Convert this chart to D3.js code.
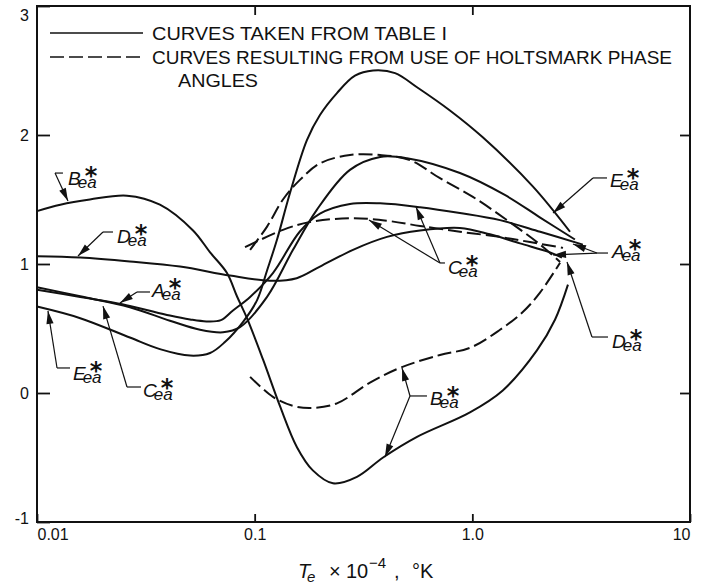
<!DOCTYPE html>
<html>
<head>
<meta charset="utf-8">
<title>collision integral ratios vs electron temperature</title>
<script src="https://cdn.jsdelivr.net/npm/d3@7"></script>
<style>
  body { margin: 0; background: #fff; }
  svg { display: block; font-family: "Liberation Sans", Arial, sans-serif; }
  .curve { fill: none; stroke: #111; stroke-width: 2; }
  .dashed { stroke-dasharray: 14,5; }
  .lead { fill: none; stroke: #111; stroke-width: 1.2; }
  .tick line { stroke: #111; stroke-width: 1.8; }
  .tick text { font-size: 16px; fill: #111; }
</style>
</head>
<body>
<script>
// T_e x 10^-4 (deg K) against ratio value
var aSolid = [[0.01,0.82],[0.0158,0.75],[0.0267,0.665],[0.0408,0.56],[0.0561,0.49],[0.0715,0.47],[0.0856,0.51],[0.114,0.745],[0.150,1.11],[0.193,1.42],[0.274,1.73],[0.377,1.83],[0.501,1.82],[0.877,1.705],[1.41,1.535],[2.05,1.36],[2.96,1.19]];
var bSolid = [[0.01,1.41],[0.0128,1.46],[0.0175,1.50],[0.0259,1.53],[0.0367,1.46],[0.0521,1.26],[0.0624,1.09],[0.0746,0.93],[0.0829,0.75],[0.0922,0.58],[0.1092,0.26],[0.1306,-0.10],[0.1564,-0.42],[0.185,-0.60],[0.229,-0.70],[0.295,-0.65],[0.389,-0.50],[0.557,-0.34],[0.975,-0.15],[1.38,0.02],[1.98,0.33],[2.40,0.57],[2.75,0.84]];
var cSolid = [[0.01,0.80],[0.0158,0.745],[0.0267,0.675],[0.0408,0.60],[0.0505,0.57],[0.060,0.555],[0.070,0.565],[0.0795,0.64],[0.0953,0.745],[0.1213,0.93],[0.161,1.25],[0.1995,1.39],[0.274,1.465],[0.377,1.47],[0.575,1.44],[0.877,1.395],[1.34,1.34],[2.05,1.25],[3.22,1.15]];
var dSolid = [[0.01,1.06],[0.0158,1.05],[0.0267,1.02],[0.0454,0.98],[0.077,0.91],[0.1175,0.87],[0.156,0.89],[0.1995,0.98],[0.283,1.11],[0.4055,1.21],[0.575,1.26],[0.877,1.28],[1.205,1.23],[1.655,1.16],[2.275,1.09],[2.58,1.05]];
var eSolid = [[0.01,0.67],[0.0158,0.58],[0.0267,0.43],[0.0367,0.34],[0.0505,0.29],[0.0624,0.31],[0.073,0.395],[0.0883,0.55],[0.1026,0.72],[0.114,0.95],[0.1267,1.19],[0.1453,1.55],[0.1738,1.96],[0.1995,2.155],[0.2388,2.325],[0.289,2.46],[0.35,2.50],[0.4416,2.48],[0.557,2.37],[0.789,2.19],[1.12,1.98],[1.90,1.60],[2.81,1.25]];
// Holtsmark phase angle curves
var aDashed = [[0.0953,1.11],[0.114,1.29],[0.1349,1.50],[0.161,1.65],[0.1995,1.78],[0.274,1.845],[0.377,1.845],[0.517,1.805],[0.71,1.665],[1.006,1.52],[1.443,1.34],[2.05,1.15],[2.53,1.015]];
var bDashed = [[0.0953,0.125],[0.1213,-0.03],[0.150,-0.10],[0.1853,-0.115],[0.2388,-0.08],[0.3386,0.08],[0.465,0.195],[0.71,0.295],[0.975,0.35],[1.34,0.49],[1.71,0.63],[2.05,0.78],[2.53,1.01]];
var cDashed = [[0.0903,1.13],[0.1349,1.265],[0.1795,1.325],[0.274,1.355],[0.4055,1.335],[0.575,1.295],[0.877,1.25],[1.34,1.21],[1.84,1.17],[2.61,1.125]];

var xTicks = [0.01, 0.1, 1, 10];
var xTickLabels = ["0.01", "0.1", "1.0", "10"];
var yTicks = [-1, 0, 1, 2, 3];
var yTickLabels = ["-1", "0", "1", "2", "3"];
var legendLabels = ["CURVES TAKEN FROM TABLE I", "CURVES RESULTING FROM USE OF HOLTSMARK PHASE", "ANGLES"];

// curve labels: text spot, leader start + elbow, arrow tips (all in data units)
var notes = [
  {name: "B", at: [0.01388, 1.612], path: [[0.01316, 1.705], [0.01210, 1.705]], tips: [[0.01388, 1.488]]},
  {name: "D", at: [0.02331, 1.163], path: [[0.02234, 1.248], [0.02010, 1.248]], tips: [[0.01543, 1.062]]},
  {name: "A", at: [0.03377, 0.744], path: [[0.03304, 0.783], [0.02880, 0.783]], tips: [[0.02405, 0.698]]},
  {name: "E", at: [0.01463, 0.101], path: [[0.01418, 0.194], [0.01236, 0.194]], tips: [[0.01123, 0.636]]},
  {name: "C", at: [0.03069, -0.031], path: [[0.03004, 0.0465], [0.02591, 0.0465]], tips: [[0.02010, 0.674]]},
  {name: "E", at: [4.291, 1.597], path: [[4.156, 1.667], [3.584, 1.667]], tips: [[2.348, 1.395]]},
  {name: "A", at: [4.381, 1.047], path: [[4.200, 1.085], [3.738, 1.085]], tips: [[2.900, 1.155], [2.348, 1.07]]},
  {name: "C", at: [0.7731, 0.922], path: [[0.7486, 1.008], [0.7100, 1.008]], tips: [[0.5512, 1.442], [0.3351, 1.341]]},
  {name: "D", at: [4.381, 0.349], path: [[4.200, 0.434], [3.545, 0.434]], tips: [[2.722, 1.016]]},
  {name: "B", at: [0.6390, -0.093], path: [[0.6189, -0.023], [0.5172, -0.023]], tips: [[0.4752, 0.194], [0.3970, -0.496]]}
];

var W = 701, H = 587;
var svg = d3.select("body").append("svg").attr("width", W).attr("height", H);

var x = d3.scaleLog().domain([0.01, 10]).range([37, 690]);
var y = d3.scaleLinear().domain([-1, 3]).range([522, 6]);

var line = d3.line()
  .x(function(d) { return x(d[0]); })
  .y(function(d) { return y(d[1]); })
  .curve(d3.curveCatmullRom.alpha(0.5));

// axes, ticks pointing inward
var bottom = svg.append("g").attr("transform", "translate(0," + y(-1) + ")")
  .call(d3.axisBottom(x).tickValues(xTicks).tickSize(-8).tickPadding(7)
    .tickFormat(function(d, i) { return xTickLabels[i]; }));
bottom.selectAll(".tick text").attr("text-anchor", function(d, i) {
  return i == 0 ? "start" : (i == xTicks.length - 1 ? "end" : "middle");
});
var left = svg.append("g").attr("transform", "translate(" + x(0.01) + ",0)")
  .call(d3.axisLeft(y).tickValues(yTicks).tickSize(-13).tickPadding(8)
    .tickFormat(function(d, i) { return yTickLabels[i]; }));
// end labels sit a bit inside the frame, as in the print
left.selectAll(".tick text").attr("y", function(d) { return d == 3 ? 9 : (d == -1 ? -4 : 0); });
svg.append("g").attr("transform", "translate(" + x(10) + ",0)")
  .call(d3.axisRight(y).tickValues([0, 1, 2]).tickSize(-10).tickFormat(""));
svg.append("g").attr("transform", "translate(0," + y(3) + ")")
  .call(d3.axisTop(x).tickValues([0.1, 1]).tickSize(-9).tickFormat(""));
svg.selectAll(".domain").remove();

svg.append("rect")
  .attr("x", x(0.01)).attr("y", y(3))
  .attr("width", x(10) - x(0.01)).attr("height", y(-1) - y(3))
  .attr("fill", "none").attr("stroke", "#111").attr("stroke-width", 2);

// curves
var solids = [aSolid, bSolid, cSolid, dSolid, eSolid];
var dashes = [aDashed, bDashed, cDashed];
svg.selectAll("path.solid").data(solids).enter().append("path")
  .attr("class", "curve solid").attr("d", line);
svg.selectAll("path.dash").data(dashes).enter().append("path")
  .attr("class", "curve dashed dash").attr("d", line);

// legend
svg.append("line").attr("x1", 50).attr("x2", 143).attr("y1", 33).attr("y2", 33)
  .attr("stroke", "#111").attr("stroke-width", 1.6);
svg.append("line").attr("x1", 50).attr("x2", 143).attr("y1", 57).attr("y2", 57)
  .attr("stroke", "#111").attr("stroke-width", 1.6).attr("stroke-dasharray", "14,5");
var legPos = [[152, 40, 295], [152, 64, 520], [178, 87, 80]];
legendLabels.forEach(function(t, i) {
  svg.append("text").attr("x", legPos[i][0]).attr("y", legPos[i][1])
    .attr("font-size", 18).attr("fill", "#111")
    .attr("textLength", legPos[i][2]).attr("lengthAdjust", "spacingAndGlyphs")
    .text(t);
});

// x axis title
var xt = svg.append("text").attr("y", 578).attr("font-size", 20).attr("fill", "#111");
xt.append("tspan").attr("x", 298).attr("font-style", "italic").text("T");
xt.append("tspan").attr("x", 307).attr("font-style", "italic").attr("font-size", 15).attr("dy", 4).text("e");
xt.append("tspan").attr("x", 329).attr("dy", -4).text("\u00d7");
xt.append("tspan").attr("x", 346).text("10");
xt.append("tspan").attr("x", 369).attr("font-size", 15).attr("dy", -10).text("\u22124");
xt.append("tspan").attr("x", 394).attr("dy", 10).text(",");
xt.append("tspan").attr("x", 412).text("\u00b0K");

// curve labels with leaders and arrowheads
function head(p0, p1) {
  var dx = p1[0] - p0[0], dy = p1[1] - p0[1], L = Math.sqrt(dx * dx + dy * dy);
  var ux = dx / L, uy = dy / L, len = 13, w = 3.6;
  var bx = p1[0] - ux * len, by = p1[1] - uy * len;
  return "M" + p1[0] + "," + p1[1] + "L" + (bx - uy * w) + "," + (by + ux * w) +
    "L" + (bx + uy * w) + "," + (by - ux * w) + "Z";
}
function px(d) { return [x(d[0]), y(d[1])]; }

notes.forEach(function(n) {
  var g = svg.append("g");
  var p = n.path.map(px);
  g.append("path").attr("class", "lead").attr("d", "M" + p[0] + "L" + p[1]);
  n.tips.forEach(function(t) {
    var tp = px(t);
    g.append("path").attr("class", "lead").attr("d", "M" + p[1] + "L" + tp);
    g.append("path").attr("d", head(p[1], tp)).attr("fill", "#111");
  });
  var a = px(n.at);
  var txt = g.append("text").attr("y", a[1]).attr("fill", "#111").attr("font-style", "italic");
  var letter = txt.append("tspan").attr("x", a[0]).attr("font-size", 19).text(n.name);
  var w = letter.node().getComputedTextLength();
  txt.append("tspan").attr("x", a[0] + w - 3).attr("dy", 3).attr("font-size", 17).text("ea");
  txt.append("tspan").attr("x", a[0] + w + 4).attr("dy", -4)
    .attr("font-size", 24).attr("font-family", "DejaVu Sans").attr("font-weight", "bold")
    .attr("font-style", "normal").text("*");
});
</script>
</body>
</html>
